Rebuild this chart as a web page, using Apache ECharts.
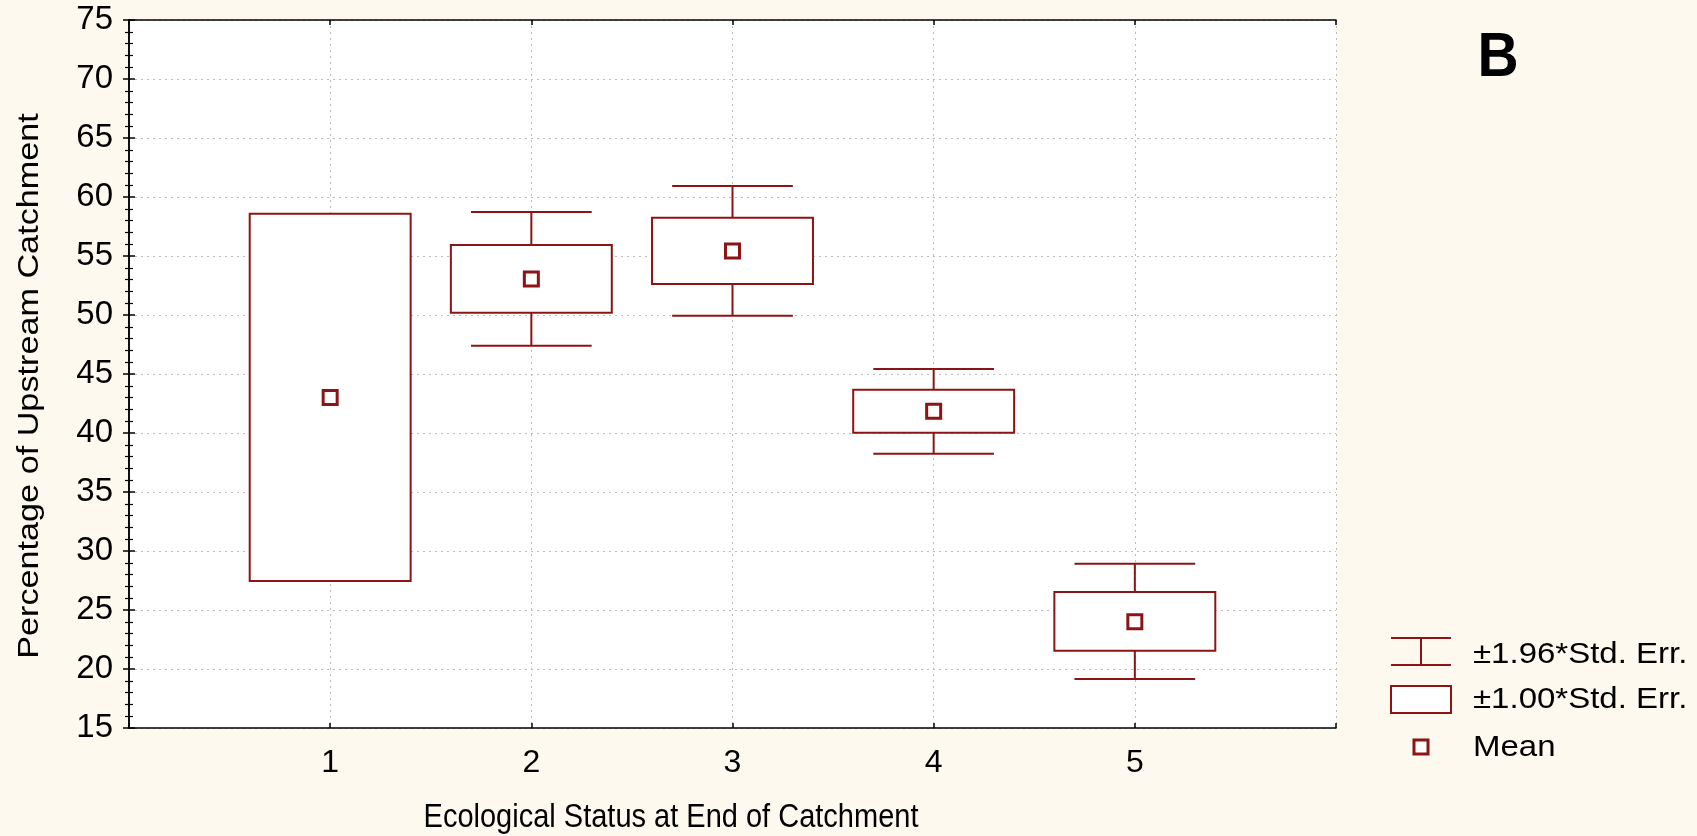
<!DOCTYPE html>
<html>
<head>
<meta charset="utf-8">
<title>Percentage of Upstream Catchment by Ecological Status</title>
<script src="https://cdn.jsdelivr.net/npm/echarts@6/dist/echarts.min.js"></script>
<style>
  html, body { margin: 0; padding: 0; background: #fdf9ee; }
  #chart { width: 1697px; height: 836px; }
</style>
</head>
<body>
<div id="chart"></div>
<script>
// Ecological status classes at the end of the catchment
var groups = [1, 2, 3, 4, 5];
// Mean percentage of upstream catchment per class
var means = [43.0, 53.05, 55.42, 41.84, 24.01];
// Mean ± 1.00 * standard error
var seLow = [27.46, 50.2, 52.63, 40.03, 21.55];
var seHigh = [58.59, 55.93, 58.25, 43.67, 26.53];
// Mean ± 1.96 * standard error (not drawn for class 1)
var ciLow = [null, 47.4, 49.94, 38.25, 19.15];
var ciHigh = [null, 58.73, 60.93, 45.42, 28.92];
// Axis ticks
var yTicks = [15, 20, 25, 30, 35, 40, 45, 50, 55, 60, 65, 70, 75];

var RED = '#8c1414';
var FONT = "'Liberation Sans', Arial, sans-serif";
var BOX_HALF = 0.4;
var CAP_HALF = 0.3;

var boxData = groups.map(function (g, i) { return [g, seLow[i], seHigh[i]]; });
var whiskerData = [];
groups.forEach(function (g, i) {
  if (ciLow[i] != null && ciHigh[i] != null) whiskerData.push([g, ciLow[i], ciHigh[i]]);
});
var meanData = groups.map(function (g, i) { return [g, means[i]]; });

var gridDots = { color: '#bcbcbc', width: 1, type: [2, 4] };

var chart = echarts.init(document.getElementById('chart'), null, { renderer: 'canvas' });

var option = {
  backgroundColor: '#fdf9ee',
  animation: false,
  grid: {
    left: 129, top: 20, width: 1207, height: 708,
    show: true, backgroundColor: '#ffffff', borderWidth: 0
  },
  xAxis: [{
    type: 'value', min: 0, max: 6, interval: 1, position: 'bottom',
    axisLine: { show: true, lineStyle: { color: '#000', width: 1.5 } },
    axisTick: { show: true, inside: true, length: 5, lineStyle: { color: '#000', width: 1.5 } },
    axisLabel: {
      margin: 19, fontSize: 32, fontFamily: FONT, color: '#000',
      formatter: function (v) { return groups.indexOf(v) >= 0 ? String(v) : ''; }
    },
    splitLine: { show: true, lineStyle: gridDots }
  }, {
    type: 'value', min: 0, max: 6, interval: 1, position: 'top',
    axisLine: { show: true, lineStyle: { color: '#000', width: 1.5 } },
    axisTick: { show: true, inside: true, length: 5, lineStyle: { color: '#000', width: 1.5 } },
    axisLabel: { show: false },
    splitLine: { show: false }
  }],
  yAxis: [{
    type: 'value', min: yTicks[0], max: yTicks[yTicks.length - 1], interval: 5, position: 'left',
    axisLine: { show: true, lineStyle: { color: '#000', width: 1.5 } },
    axisTick: { show: true, inside: true, length: 6, lineStyle: { color: '#000', width: 1.5 } },
    minorTick: { show: true, splitNumber: 5, length: 4, lineStyle: { color: '#000', width: 1.2 } },
    axisLabel: { margin: 16, fontSize: 33, fontFamily: FONT, color: '#000' },
    splitLine: { show: true, lineStyle: gridDots }
  }, {
    type: 'value', min: yTicks[0], max: yTicks[yTicks.length - 1], interval: 5, position: 'right',
    axisLine: { show: true, lineStyle: { color: '#000', width: 1.5 } },
    axisTick: { show: true, inside: true, length: 6, lineStyle: { color: '#000', width: 1.5 } },
    minorTick: { show: true, splitNumber: 5, length: 4, lineStyle: { color: '#000', width: 1.2 } },
    axisLabel: { show: false },
    splitLine: { show: false }
  }],
  series: [{
    // ±1.96 * Std. Err. whiskers with caps
    name: '±1.96*Std. Err.',
    type: 'custom',
    xAxisIndex: 0, yAxisIndex: 0,
    data: whiskerData,
    z: 2,
    renderItem: function (params, api) {
      var x = api.value(0), lo = api.value(1), hi = api.value(2);
      var pTop = api.coord([x, hi]);
      var pBot = api.coord([x, lo]);
      var capL = api.coord([x - CAP_HALF, hi])[0];
      var capR = api.coord([x + CAP_HALF, hi])[0];
      var style = { stroke: RED, lineWidth: 2, fill: null };
      return {
        type: 'group',
        children: [
          { type: 'line', shape: { x1: pTop[0], y1: pTop[1], x2: pBot[0], y2: pBot[1] }, style: style },
          { type: 'line', shape: { x1: capL, y1: pTop[1], x2: capR, y2: pTop[1] }, style: style },
          { type: 'line', shape: { x1: capL, y1: pBot[1], x2: capR, y2: pBot[1] }, style: style }
        ]
      };
    }
  }, {
    // ±1.00 * Std. Err. boxes
    name: '±1.00*Std. Err.',
    type: 'custom',
    xAxisIndex: 0, yAxisIndex: 0,
    data: boxData,
    z: 3,
    renderItem: function (params, api) {
      var x = api.value(0), lo = api.value(1), hi = api.value(2);
      var tl = api.coord([x - BOX_HALF, hi]);
      var br = api.coord([x + BOX_HALF, lo]);
      return {
        type: 'rect',
        shape: { x: tl[0], y: tl[1], width: br[0] - tl[0], height: br[1] - tl[1] },
        style: { fill: '#ffffff', stroke: RED, lineWidth: 2 }
      };
    }
  }, {
    name: 'Mean',
    type: 'scatter',
    xAxisIndex: 0, yAxisIndex: 0,
    data: meanData,
    z: 4,
    symbol: 'rect',
    symbolSize: 14,
    itemStyle: { color: '#ffffff', borderColor: RED, borderWidth: 3, opacity: 1 }
  }],
  graphic: [
    // Panel letter
    {
      type: 'text', x: 1498, y: 59, scaleY: 1.1,
      style: { text: 'B', font: "bold 57px 'Liberation Sans', Arial, sans-serif", fill: '#000', align: 'center', verticalAlign: 'middle' }
    },
    // Axis titles
    {
      type: 'text', x: 671, y: 818, scaleY: 1.16,
      style: { text: 'Ecological Status at End of Catchment', font: "29px 'Liberation Sans', Arial, sans-serif", fill: '#000', align: 'center', verticalAlign: 'middle' }
    },
    {
      type: 'text', x: 30, y: 386, rotation: Math.PI / 2, scaleX: 1.14,
      style: { text: 'Percentage of Upstream Catchment', font: "30px 'Liberation Sans', Arial, sans-serif", fill: '#000', align: 'center', verticalAlign: 'middle' }
    },
    // Legend: whisker icon
    { type: 'line', shape: { x1: 1391, y1: 638, x2: 1451, y2: 638 }, style: { stroke: RED, lineWidth: 2 } },
    { type: 'line', shape: { x1: 1391, y1: 665, x2: 1451, y2: 665 }, style: { stroke: RED, lineWidth: 2 } },
    { type: 'line', shape: { x1: 1421, y1: 638, x2: 1421, y2: 665 }, style: { stroke: RED, lineWidth: 2 } },
    {
      type: 'text', x: 1473, y: 655, scaleX: 1.1,
      style: { text: '±1.96*Std. Err.', font: "30px 'Liberation Sans', Arial, sans-serif", fill: '#000', align: 'left', verticalAlign: 'middle' }
    },
    // Legend: box icon
    { type: 'rect', shape: { x: 1391, y: 686, width: 60, height: 27 }, style: { fill: '#ffffff', stroke: RED, lineWidth: 2 } },
    {
      type: 'text', x: 1473, y: 700, scaleX: 1.1,
      style: { text: '±1.00*Std. Err.', font: "30px 'Liberation Sans', Arial, sans-serif", fill: '#000', align: 'left', verticalAlign: 'middle' }
    },
    // Legend: mean icon
    { type: 'rect', shape: { x: 1414, y: 740, width: 14, height: 14 }, style: { fill: '#ffffff', stroke: RED, lineWidth: 3 } },
    {
      type: 'text', x: 1473, y: 748, scaleX: 1.1,
      style: { text: 'Mean', font: "30px 'Liberation Sans', Arial, sans-serif", fill: '#000', align: 'left', verticalAlign: 'middle' }
    }
  ]
};

chart.setOption(option);
</script>
</body>
</html>
